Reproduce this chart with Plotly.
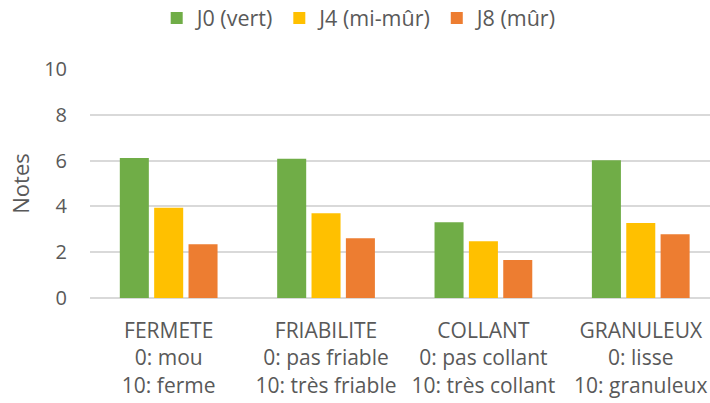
import plotly.graph_objects as go

categories = [
    "FERMETE<br>0: mou<br>10: ferme",
    "FRIABILITE<br>0: pas friable<br>10: très friable",
    "COLLANT<br>0: pas collant<br>10: très collant",
    "GRANULEUX<br>0: lisse<br>10: granuleux",
]
series_names = ["J0 (vert)", "J4 (mi-mûr)", "J8 (mûr)"]
j0 = [6.11, 6.08, 3.31, 6.02]
j4 = [3.94, 3.70, 2.48, 3.28]
j8 = [2.35, 2.61, 1.66, 2.78]
colors = ["#70AD47", "#FFC000", "#ED7D31"]

font_family = "'Open Sans', sans-serif"
grey = "#595959"

fig = go.Figure()
for name, vals, c in zip(series_names, [j0, j4, j8], colors):
    fig.add_trace(go.Bar(x=list(range(len(categories))), y=vals, name=name,
                         marker=dict(color=c, line=dict(width=0))))

fig.update_layout(
    width=710, height=403,
    margin=dict(l=90, r=0, t=69, b=105, autoexpand=False),
    paper_bgcolor="white", plot_bgcolor="white",
    barmode="group", bargap=0.345, bargroupgap=0.155,
    font=dict(family=font_family, color=grey, size=20),
    legend=dict(orientation="h", x=0.435, xanchor="center",
                y=1 - 18 / 403, yref="container", yanchor="middle",
                font=dict(size=21.5, color=grey), itemwidth=30,
                traceorder="normal", tracegroupgap=0),
    showlegend=True,
)
fig.update_xaxes(
    tickmode="array", tickvals=list(range(len(categories))), ticktext=categories,
    range=[-0.5, 3.44], showgrid=False, showline=False, ticks="",
    tickfont=dict(size=21, color=grey), fixedrange=True, ticklabelstandoff=18,
)
fig.update_yaxes(
    range=[0, 10], dtick=2, showgrid=True, gridcolor="#D9D9D9", gridwidth=1.5,
    zeroline=True, zerolinecolor="#D9D9D9", zerolinewidth=1.5,
    showline=False, ticks="", tickfont=dict(size=20, color=grey),
    ticklabelstandoff=22,
    title=dict(text="Notes", font=dict(size=22, color=grey), standoff=8),
)
fig.write_html("out.html", post_script="document.body.style.margin='0';",
               config={"displayModeBar": False})
